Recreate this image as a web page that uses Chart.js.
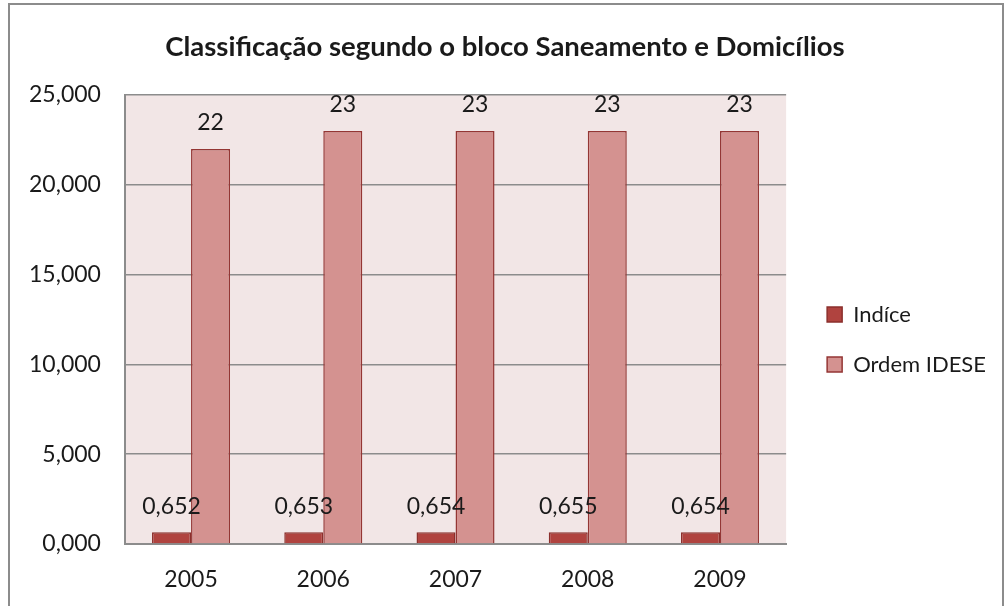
<!DOCTYPE html>
<html>
<head>
<meta charset="utf-8">
<script src="https://cdn.jsdelivr.net/npm/chart.js@4/dist/chart.umd.min.js"></script>
<style>
  html, body { margin: 0; padding: 0; background: #fff; overflow: hidden; }
  #chart { position: absolute; left: 0; top: 0; display: block; }
  #frame { position: absolute; left: 8px; top: 3px; width: 996px; height: 620px; border: 2px solid #8c8c8c; box-sizing: border-box; pointer-events: none; }
</style>
</head>
<body>
<canvas id="chart" width="1008" height="606"></canvas>
<div id="frame"></div>
<script>
const titleText = 'Classificação segundo o bloco Saneamento e Domicílios';
const years = ['2005', '2006', '2007', '2008', '2009'];
const indice = [0.652, 0.653, 0.654, 0.655, 0.654];
const ordem = [22, 23, 23, 23, 23];

const FONT = 'Lato, "Open Sans", sans-serif';

const fmt3 = v => v.toFixed(3).replace('.', ',');

// fill the plot area with the pale pink background
const plotBg = {
  id: 'plotBg',
  beforeDraw(chart) {
    const { ctx, chartArea: a } = chart;
    ctx.save();
    ctx.fillStyle = '#f2e6e6';
    ctx.fillRect(a.left, a.top, a.right - a.left, a.bottom - a.top);
    ctx.restore();
  }
};

// nudge legend and title a little, the way Excel places them
const nudge = {
  id: 'nudge',
  afterLayout(chart) {
    const l = chart.legend, a = chart.chartArea;
    const dx = 13;
    l.left += dx; l.right += dx;
    const h = l.bottom - l.top;
    l.top = (a.top + a.bottom) / 2 - 44;
    l.bottom = l.top + h;
    chart.boxes.forEach(b => {
      if (b !== l && b.options && b.options.text === titleText) { b.left += 11; b.right += 11; }
    });
  }
};

// value labels above each bar
const valueLabels = {
  id: 'valueLabels',
  afterDatasetsDraw(chart) {
    const { ctx } = chart;
    ctx.save();
    ctx.font = '23px ' + FONT;
    ctx.fillStyle = '#1a1a1a';
    ctx.textAlign = 'center';
    ctx.textBaseline = 'middle';
    chart.data.datasets.forEach((ds, i) => {
      chart.getDatasetMeta(i).data.forEach((bar, j) => {
        const v = ds.data[j];
        const txt = i === 0 ? fmt3(v) : String(v);
        ctx.fillText(txt, bar.x, bar.y - 26);
      });
    });
    ctx.restore();
  }
};

new Chart(document.getElementById('chart'), {
  type: 'bar',
  data: {
    labels: years,
    datasets: [
      { label: 'Indíce', data: indice, backgroundColor: '#b0433f', borderColor: '#8b2f2c', borderWidth: 1.5 },
      { label: 'Ordem IDESE', data: ordem, backgroundColor: '#d49290', borderColor: '#943634', borderWidth: 1.5 }
    ]
  },
  options: {
    responsive: false,
    animation: false,
    layout: { padding: { left: 5, right: 25, top: 0, bottom: 0 } },
    datasets: { bar: { categoryPercentage: 0.59, barPercentage: 1 } },
    plugins: {
      title: {
        display: true, text: titleText, color: '#1a1a1a',
        font: { family: FONT, size: 27.5, weight: 'bold' },
        padding: { top: 31, bottom: 31 }
      },
      legend: {
        position: 'right',
        align: 'start',
        labels: {
          color: '#1a1a1a', font: { family: FONT, size: 22 },
          boxWidth: 15, boxHeight: 15, padding: 28
        }
      },
      tooltip: { enabled: false }
    },
    scales: {
      x: {
        grid: { display: false },
        border: { color: '#8c8c8c', width: 2 },
        ticks: { color: '#1a1a1a', font: { family: FONT, size: 23 }, padding: 14 },
        afterFit: s => { s.height = 62; }
      },
      y: {
        min: 0, max: 25,
        ticks: { stepSize: 5, color: '#1a1a1a', font: { family: FONT, size: 23 }, padding: 24, callback: v => fmt3(v) },
        grid: { color: '#8c8c8c', lineWidth: 1.5, drawTicks: false },
        border: { color: '#8c8c8c', width: 2 }
      }
    }
  },
  plugins: [plotBg, nudge, valueLabels]
});
</script>
</body>
</html>
